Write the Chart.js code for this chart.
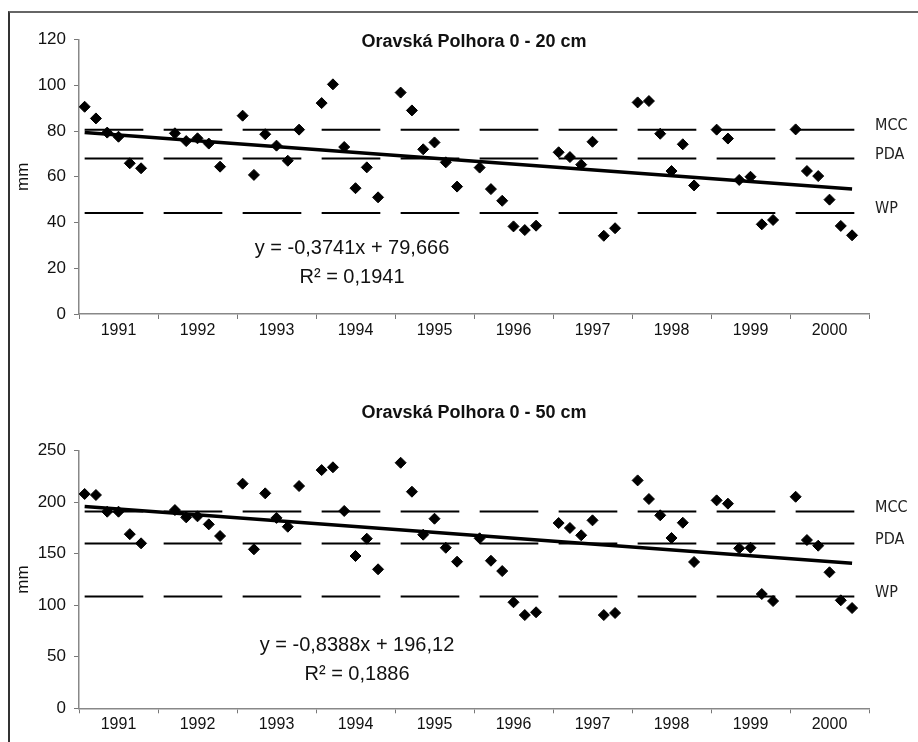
<!DOCTYPE html>
<html>
<head>
<meta charset="utf-8">
<script src="https://cdn.jsdelivr.net/npm/chart.js@4.4.1/dist/chart.umd.min.js"></script>
<style>
  body { margin: 0; background: #fff; width: 918px; height: 742px; position: relative; overflow: hidden; }
  #frame { position: absolute; left: 8px; top: 11px; width: 920px; height: 740px;
           border-top: 2px solid #666; border-left: 2px solid #333; }
  canvas { position: absolute; left: 0; }
  #c20 { top: 0; }
  #c50 { top: 371px; }
</style>
</head>
<body>
<div id="frame"></div>
<canvas id="c20" width="918" height="371"></canvas>
<canvas id="c50" width="918" height="371"></canvas>
<script>
// years on the x axis, 6 readings a year (first 1992 reading missing)
var years = ['1991', '1992', '1993', '1994', '1995', '1996', '1997', '1998', '1999', '2000'];
var slotsPerYear = 7; // 6 readings + one empty slot between years

// soil water storage, mm, layer 0 - 20 cm
var water20 = [
  90.6, 85.5, 79.3, 77.5, 65.9, 63.7,
  null, 79.0, 75.6, 76.8, 74.5, 64.4,
  86.7, 60.8, 78.6, 73.6, 67.0, 80.6,
  92.2, 100.4, 73.0, 55.0, 64.1, 51.0,
  96.8, 89.0, 72.0, 75.0, 66.3, 55.7,
  64.0, 54.6, 49.5, 38.3, 36.7, 38.6,
  70.7, 68.6, 65.3, 75.3, 34.2, 37.5,
  92.5, 93.1, 78.8, 62.5, 74.2, 56.2,
  80.6, 76.7, 58.6, 60.0, 39.2, 41.1,
  80.7, 62.5, 60.3, 50.0, 38.5, 34.4
];
// layer 0 - 50 cm
var water50 = [
  208.0, 207.0, 190.8, 190.8, 169.0, 160.1,
  null, 192.4, 185.3, 186.3, 178.5, 167.2,
  218.0, 154.3, 208.6, 184.8, 176.2, 215.7,
  231.2, 233.9, 191.5, 147.8, 164.6, 134.9,
  238.3, 210.2, 168.5, 184.0, 155.8, 142.3,
  165.0, 143.2, 133.2, 102.9, 90.5, 93.2,
  179.8, 175.0, 167.9, 182.4, 90.5, 92.5,
  221.2, 203.1, 187.3, 165.3, 180.1, 142.0,
  201.8, 198.6, 155.3, 155.8, 110.9, 104.1,
  205.3, 163.3, 157.8, 132.0, 104.8, 97.3
];

// hydrolimits
var limitNames = ['MCC', 'PDA', 'WP'];
var limits20 = [80.5, 68.0, 44.2];
var limits50 = [191.0, 160.0, 108.5];

// linear trend, value at first and last reading
var trend20 = [79.3, 54.6];
var trend50 = [195.8, 140.7];

var font = "'Liberation Sans', Arial, sans-serif";
var narrow = "'Liberation Sans Narrow', 'DejaVu Sans Condensed', sans-serif";

function slotX(i) {
  var year = Math.floor(i / 6), m = i % 6;
  return year * slotsPerYear + m + 0.5;
}

function pointsOf(values) {
  return values.map(function (v, i) { return { x: slotX(i), y: v }; });
}

function limitLine(level) {
  var pts = [];
  years.forEach(function (y, k) {
    pts.push({ x: k * slotsPerYear + 0.5, y: level });
    pts.push({ x: k * slotsPerYear + 5.7, y: level });
    pts.push({ x: k * slotsPerYear + 6.5, y: null });
  });
  return pts;
}

var notesPlugin = {
  id: 'notes',
  afterDraw: function (chart, args, opts) {
    var ctx = chart.ctx, a = chart.chartArea, ys = chart.scales.y;
    ctx.save();
    ctx.fillStyle = '#111';
    ctx.textAlign = 'center';
    ctx.textBaseline = 'middle';
    ctx.font = 'bold 18px ' + font;
    ctx.fillText(opts.title, (a.left + a.right) / 2, opts.titleY);
    ctx.font = '20px ' + font;
    ctx.fillText(opts.equation, opts.eqX, opts.eqY);
    ctx.fillText(opts.r2, opts.eqX, opts.eqY + 29);
    ctx.font = '16px ' + narrow;
    ctx.textAlign = 'left';
    ctx.fillStyle = '#222';
    opts.limits.forEach(function (v, i) {
      ctx.fillText(limitNames[i], a.right + 6, ys.getPixelForValue(v) - 4);
    });
    ctx.restore();
  }
};

function makeChart(id, values, limits, trend, yMax, yStep, notes, pad) {
  var datasets = [{
    data: pointsOf(values),
    showLine: false,
    pointStyle: 'rectRot',
    pointRadius: 5.5,
    pointBackgroundColor: '#000',
    pointBorderColor: '#000',
    pointBorderWidth: 1
  }, {
    data: [{ x: 0.5, y: trend[0] }, { x: 9 * slotsPerYear + 5.5, y: trend[1] }],
    showLine: true,
    borderColor: '#000',
    borderWidth: 3.5,
    pointRadius: 0
  }];
  limits.forEach(function (level) {
    datasets.push({
      data: limitLine(level),
      showLine: true,
      spanGaps: false,
      borderColor: '#000',
      borderWidth: 2,
      pointRadius: 0
    });
  });

  return new Chart(document.getElementById(id), {
    type: 'scatter',
    data: { datasets: datasets },
    options: {
      responsive: false,
      animation: false,
      layout: { padding: pad },
      plugins: {
        legend: { display: false },
        tooltip: { enabled: false },
        notes: notes
      },
      scales: {
        x: { type: 'linear', min: 0, max: years.length * slotsPerYear, display: false },
        xYear: {
          type: 'category',
          labels: years,
          position: 'bottom',
          offset: true,
          grid: { offset: true, drawOnChartArea: false, tickLength: 5, color: '#777' },
          border: { color: '#888', width: 1.5 },
          ticks: { font: { size: 16, family: font }, color: '#111', padding: 2, maxRotation: 0, autoSkip: false },
          afterFit: function (s) { s.height = 30; }
        },
        y: {
          min: 0,
          max: yMax,
          ticks: { stepSize: yStep, font: { size: 17, family: font }, color: '#111', padding: 8 },
          grid: { drawOnChartArea: false, tickLength: 5, color: '#777' },
          border: { color: '#888', width: 1.5 },
          title: { display: true, text: 'mm', font: { size: 17, family: font }, color: '#111', padding: { top: 4, bottom: 0 } },
          afterFit: function (s) { s.width = 70; }
        }
      }
    },
    plugins: [notesPlugin]
  });
}

makeChart('c20', water20, limits20, trend20, 120, 20, {
  title: 'Oravská Polhora 0 - 20 cm',
  titleY: 42,
  equation: 'y = -0,3741x + 79,666',
  r2: 'R² = 0,1941',
  eqX: 352,
  eqY: 248,
  limits: limits20
}, { left: 9, right: 49, top: 39.5, bottom: 27 });

makeChart('c50', water50, limits50, trend50, 250, 50, {
  title: 'Oravská Polhora 0 - 50 cm',
  titleY: 42,
  equation: 'y = -0,8388x + 196,12',
  r2: 'R² = 0,1886',
  eqX: 357,
  eqY: 274,
  limits: limits50
}, { left: 9, right: 49, top: 79.7, bottom: 3.7 });
</script>
</body>
</html>
